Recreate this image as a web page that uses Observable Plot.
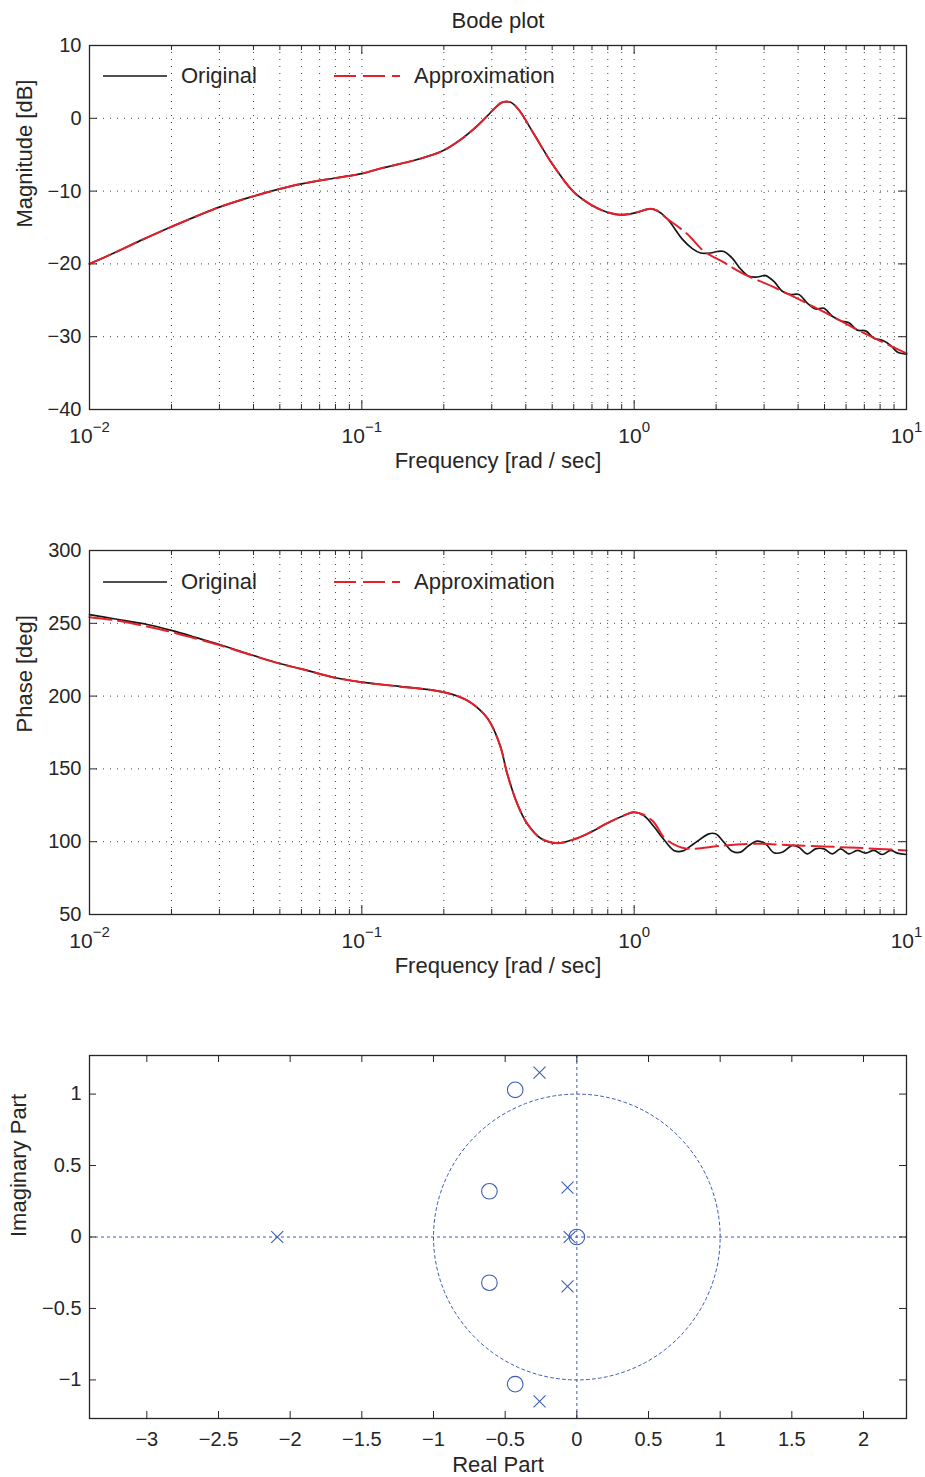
<!DOCTYPE html>
<html><head><meta charset="utf-8">
<script src="https://cdn.jsdelivr.net/npm/d3@7"></script>
<script src="https://cdn.jsdelivr.net/npm/@observablehq/plot@0.6"></script>
<style>
body{margin:0;background:#fff;}
#page{position:relative;width:925px;height:1477px;font-family:'Liberation Sans',Arial,Helvetica,sans-serif;color:#262626;overflow:hidden;}
#page svg{display:block;}
.lg{position:absolute;font-size:22px;line-height:26px;white-space:nowrap;color:#262626;}
.sw{position:absolute;overflow:visible;}
</style></head><body><div id="page"></div>
<script>
// ---------- data ----------
const magFreq = [0.01, 0.0123, 0.0158, 0.02, 0.03, 0.04, 0.05, 0.06, 0.08, 0.1, 0.117, 0.155, 0.179, 0.2, 0.237, 0.258, 0.273, 0.297, 0.31, 0.328, 0.352, 0.377, 0.428, 0.5, 0.601, 0.702, 0.796, 0.891, 0.998, 1.149, 1.216, 1.323, 1.502, 1.635, 1.753, 1.909, 2.018, 2.135, 2.29, 2.459, 2.638, 2.831, 3.038, 3.259, 3.499, 3.753, 4.026, 4.323, 4.638, 4.973, 5.34, 5.73, 6.145, 6.597, 7.077, 7.593, 8.149, 8.742, 9.25, 10];
const magOriginal = [-20, -18.5, -16.6, -14.9, -12.2, -10.7, -9.7, -9.0, -8.2, -7.6, -6.9, -5.8, -5.1, -4.4, -2.6, -1.45, -0.6, 0.8, 1.5, 2.2, 2.2, 1.17, -2.13, -6.25, -10.15, -11.98, -12.9, -13.26, -13.03, -12.43, -12.7, -13.8, -16.6, -17.9, -18.5, -18.5, -18.3, -18.3, -19.2, -20.7, -21.7, -21.8, -21.6, -22.4, -23.75, -24.2, -24.2, -25.4, -26.2, -26.1, -27.2, -27.8, -28.1, -29.1, -29.2, -30.2, -30.5, -31.2, -32.1, -32.4];
const magApproxFreq = [0.01, 0.0123, 0.0158, 0.02, 0.03, 0.04, 0.05, 0.06, 0.08, 0.1, 0.117, 0.155, 0.179, 0.2, 0.237, 0.258, 0.273, 0.297, 0.31, 0.328, 0.352, 0.377, 0.428, 0.5, 0.601, 0.702, 0.796, 0.891, 0.998, 1.149, 1.216, 1.323, 1.567, 1.803, 2.135, 2.529, 3.259, 4.973, 6.597, 10];
const magApprox = [-20, -18.5, -16.6, -14.9, -12.2, -10.7, -9.7, -9.0, -8.2, -7.6, -6.9, -5.8, -5.1, -4.4, -2.6, -1.45, -0.6, 0.8, 1.5, 2.2, 2.2, 1.17, -2.13, -6.25, -10.15, -11.98, -12.9, -13.26, -13.03, -12.43, -12.7, -13.8, -15.9, -18.25, -19.8, -21.4, -23.2, -26.6, -29.05, -32.3];

const phaseFreq = [0.01, 0.01228, 0.01629, 0.02, 0.02486, 0.03, 0.04, 0.0503, 0.06, 0.08, 0.1, 0.1349, 0.2, 0.2438, 0.2806, 0.297, 0.3232, 0.342, 0.3722, 0.4051, 0.4532, 0.522, 0.618, 0.6918, 0.7964, 0.9167, 0.998, 1.085, 1.181, 1.285, 1.399, 1.502, 1.656, 1.881, 1.99, 2.135, 2.29, 2.459, 2.638, 2.831, 3.038, 3.259, 3.499, 3.807, 4.026, 4.323, 4.638, 4.973, 5.34, 5.73, 6.145, 6.597, 7.077, 7.593, 8.149, 8.742, 9.25, 10];
const phaseOriginal = [256, 253.1, 249.2, 245.1, 240, 235.4, 227.9, 222.2, 218.7, 212.6, 209.6, 206.8, 202.7, 197, 187.8, 181.4, 165, 146.6, 126, 112.3, 102.4, 99, 102.4, 106.5, 112.7, 118, 120.3, 118, 110.4, 101.5, 94, 93.5, 98.6, 105.4, 105.4, 99.7, 93.5, 92.8, 97.4, 100.4, 98.6, 92.4, 92.8, 97.4, 96.2, 91.7, 95.1, 95.1, 91.7, 95.1, 91.7, 94, 92.2, 94, 91.2, 94, 92.2, 91.2];
const phaseApproxFreq = [0.01, 0.01228, 0.01629, 0.02, 0.02486, 0.03, 0.04, 0.0503, 0.06, 0.08, 0.1, 0.1349, 0.2, 0.2438, 0.2806, 0.297, 0.3232, 0.342, 0.3722, 0.4051, 0.4532, 0.522, 0.618, 0.6918, 0.7964, 0.9167, 0.998, 1.085, 1.181, 1.285, 1.399, 1.502, 1.618, 2.135, 2.831, 3.753, 4.973, 6.597, 10];
const phaseApprox = [254.2, 252.2, 247.8, 244, 239.3, 235, 227.7, 222.1, 218.6, 212.5, 209.5, 206.7, 202.7, 197, 187.8, 181.4, 165, 146.6, 126, 112.3, 102.4, 99, 102.4, 106.5, 112.7, 118, 120.3, 118.5, 113.4, 103.1, 98.1, 95.8, 95.1, 97.4, 98.6, 97.6, 96.7, 95.8, 94];

const poleRe = [-2.09, -0.26, -0.26, -0.065, -0.065, -0.05];
const poleIm = [0, 1.15, -1.15, 0.345, -0.345, 0];
const zeroRe = [-0.43, -0.43, -0.61, -0.61, 0];
const zeroIm = [1.03, -1.03, 0.32, -0.32, 0];

const freqMajorTicks = [0.01, 0.1, 1, 10];
const freqMinorTicks = [0.02,0.03,0.04,0.05,0.06,0.07,0.08,0.09, 0.2,0.3,0.4,0.5,0.6,0.7,0.8,0.9, 2,3,4,5,6,7,8,9];
const magTicks = [-40, -30, -20, -10, 0, 10];
const phaseTicks = [50, 100, 150, 200, 250, 300];
const reTicks = [-3, -2.5, -2, -1.5, -1, -0.5, 0, 0.5, 1, 1.5, 2];
const imTicks = [-1, -0.5, 0, 0.5, 1];

const legendLabels = ["Original", "Approximation"];
const titleText = "Bode plot";
const freqLabel = "Frequency [rad / sec]";
const magLabel = "Magnitude [dB]";
const phaseLabel = "Phase [deg]";
const reLabel = "Real Part";
const imLabel = "Imaginary Part";

// ---------- style ----------
const FONT = "'Liberation Sans', Arial, Helvetica, sans-serif";
const INK = "#262626";
const RED = "#e5202a";
const BLACK = "#161616";
const BLUE = "#3c5db5";
const gridStyle = {stroke: "#222", strokeOpacity: 0.85, strokeDasharray: "1,6", strokeWidth: 1};
const page = document.getElementById("page");
const numFmt = d => (d < 0 ? "\u2212" : "") + Math.abs(d);

function series(fs, vs) { return fs.map((f, i) => ({f, v: vs[i]})); }

function inTicksX(ticks, len, innerH) {
  return [
    Plot.tickX(ticks, {x: d => d, insetTop: innerH - len, stroke: INK, strokeWidth: 1}),
    Plot.tickX(ticks, {x: d => d, insetBottom: innerH - len, stroke: INK, strokeWidth: 1})
  ];
}
function inTicksY(ticks, len, innerW) {
  return [
    Plot.tickY(ticks, {y: d => d, insetRight: innerW - len, stroke: INK, strokeWidth: 1}),
    Plot.tickY(ticks, {y: d => d, insetLeft: innerW - len, stroke: INK, strokeWidth: 1})
  ];
}

function superscripts(svg) {
  d3.select(svg).selectAll("text").each(function() {
    const m = /^10\^(.+)$/.exec(this.textContent);
    if (!m) return;
    this.textContent = "";
    const s = d3.select(this);
    s.append("tspan").text("10");
    s.append("tspan").attr("dy", "-11").attr("font-size", "15px").text(m[1].replace("-", "\u2212"));
  });
}

function bodePanel({height, marginTop, yDomain, yTicks, yLabel, orig, approx, title}) {
  const W = 925, mL = 89, mR = 19, mB = 81;
  const innerH = height - marginTop - mB, innerW = W - mL - mR;
  const marks = [
    Plot.ruleX([...freqMajorTicks, ...freqMinorTicks], {x: d => d, ...gridStyle}),
    Plot.ruleY(yTicks, {y: d => d, ...gridStyle}),
    ...inTicksX(freqMajorTicks, 9, innerH),
    ...inTicksX(freqMinorTicks, 5, innerH),
    ...inTicksY(yTicks, 8, innerW),
    Plot.line(orig, {x: "f", y: "v", stroke: BLACK, strokeWidth: 1.7, curve: "catmull-rom"}),
    Plot.line(approx, {x: "f", y: "v", stroke: RED, strokeWidth: 2, strokeDasharray: "22,7", curve: "catmull-rom"}),
    Plot.frame({stroke: INK, strokeWidth: 1.3}),
    Plot.axisX(freqMajorTicks, {tickSize: 0, tickPadding: 19, fontSize: 21, label: null,
      tickFormat: d => "10^" + Math.round(Math.log10(d))}),
    Plot.axisY(yTicks, {tickSize: 0, tickPadding: 8, label: null, tickFormat: numFmt}),
    Plot.text([freqLabel], {frameAnchor: "bottom", lineAnchor: "middle", dy: 51, fontSize: 22, fill: INK}),
    Plot.text([yLabel], {frameAnchor: "left", lineAnchor: "middle", dx: -65, rotate: -90, fontSize: 22, fill: INK})
  ];
  if (title) marks.push(Plot.text([title], {frameAnchor: "top", lineAnchor: "middle", dy: -25, fontSize: 22, fill: INK}));
  const svg = Plot.plot({
    width: W, height, marginTop, marginBottom: mB, marginLeft: mL, marginRight: mR,
    style: {fontFamily: FONT, fontSize: "20px", color: INK, background: "white", overflow: "visible"},
    x: {type: "log", domain: [0.01, 10]},
    y: {domain: yDomain},
    marks
  });
  superscripts(svg);
  return svg;
}

// ---------- panel 1: magnitude ----------
page.appendChild(bodePanel({
  height: 490, marginTop: 45, yDomain: [-40, 10], yTicks: magTicks, yLabel: magLabel,
  orig: series(magFreq, magOriginal), approx: series(magApproxFreq, magApprox), title: titleText
}));

// ---------- panel 2: phase ----------
page.appendChild(bodePanel({
  height: 505, marginTop: 60, yDomain: [50, 300], yTicks: phaseTicks, yLabel: phaseLabel,
  orig: series(phaseFreq, phaseOriginal), approx: series(phaseApproxFreq, phaseApprox)
}));

// ---------- panel 3: pole-zero map ----------
{
  const W = 925, H = 482, mT = 60, mB = 59, mL = 89, mR = 19;
  const innerH = H - mT - mB, innerW = W - mL - mR;
  const poles = poleRe.map((re, i) => ({re, im: poleIm[i]}));
  const zeros = zeroRe.map((re, i) => ({re, im: zeroIm[i]}));
  const unitCircle = d3.range(0, 241).map(k => ({re: Math.cos(k / 240 * 2 * Math.PI), im: Math.sin(k / 240 * 2 * Math.PI)}));
  const dashed = {stroke: BLUE, strokeDasharray: "3,3", strokeWidth: 1};
  const svg = Plot.plot({
    width: W, height: H, marginTop: mT, marginBottom: mB, marginLeft: mL, marginRight: mR,
    style: {fontFamily: FONT, fontSize: "20px", color: INK, background: "white", overflow: "visible"},
    x: {domain: [-3.4, 2.3]},
    y: {domain: [-1.27, 1.27]},
    marks: [
      Plot.ruleX([0], {x: d => d, ...dashed}),
      Plot.ruleY([0], {y: d => d, ...dashed}),
      Plot.line(unitCircle, {x: "re", y: "im", ...dashed}),
      Plot.dot(zeros, {x: "re", y: "im", r: 7.8, stroke: BLUE, fill: "none", strokeWidth: 1.1}),
      Plot.dot(poles, {x: "re", y: "im", symbol: "times", r: 5.5, stroke: BLUE, strokeWidth: 1.1}),
      ...inTicksX(reTicks, 7, innerH),
      ...inTicksY(imTicks, 7, innerW),
      Plot.frame({stroke: INK, strokeWidth: 1.3}),
      Plot.axisX(reTicks, {tickSize: 0, tickPadding: 13, label: null, tickFormat: numFmt}),
      Plot.axisY(imTicks, {tickSize: 0, tickPadding: 8, label: null, tickFormat: numFmt}),
      Plot.text([reLabel], {frameAnchor: "bottom", lineAnchor: "middle", dy: 46, fontSize: 22, fill: INK}),
      Plot.text([imLabel], {frameAnchor: "left", lineAnchor: "middle", dx: -71, rotate: -90, fontSize: 22, fill: INK})
    ]
  });
  page.appendChild(svg);
}

// ---------- legends (inside the Bode panels) ----------
function legend(cy) {
  const mk = (left, width, stroke, sw, dash) => {
    const s = d3.select(page).append("svg").attr("class", "sw")
      .style("left", left + "px").style("top", (cy - 3) + "px")
      .attr("width", width).attr("height", 6);
    s.append("line").attr("x1", 0).attr("x2", width).attr("y1", 3).attr("y2", 3)
      .attr("stroke", stroke).attr("stroke-width", sw).attr("stroke-dasharray", dash);
  };
  mk(103, 64, BLACK, 1.7, null);
  mk(334, 66, RED, 2, "22,7");
  d3.select(page).append("div").attr("class", "lg").style("left", "181px").style("top", (cy - 13) + "px").text(legendLabels[0]);
  d3.select(page).append("div").attr("class", "lg").style("left", "414px").style("top", (cy - 13) + "px").text(legendLabels[1]);
}
legend(76);
legend(582);
</script>
</body></html>
